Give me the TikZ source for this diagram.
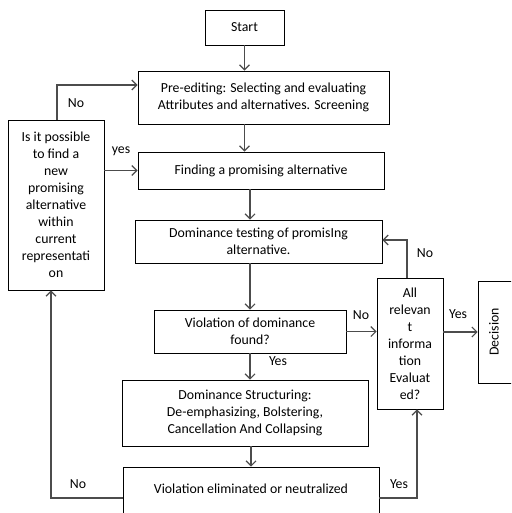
\documentclass[tikz,border=0pt]{standalone}
\usepackage{fontspec}
\setmainfont{Carlito}
\usetikzlibrary{arrows.meta}

\begin{document}
\begin{tikzpicture}[x=1pt, y=-1pt,
	box/.style={draw=black, line width=0.9pt, align=center, inner sep=2pt, font=\fontsize{13.8}{17}\selectfont},
	lbl/.style={font=\fontsize{13.8}{17}\selectfont},
	arr/.style={draw=black!70, line width=1.1pt, -{Straight Barb[length=5pt,width=10pt]}}]
			\useasboundingbox (0,0) rectangle (511,513);
			\clip (0,0) rectangle (511,513);
			\fill[white] (0,0) rectangle (511,513);
			\node[box, minimum width=79pt, minimum height=35pt] (start) at (244.5,27.5) {Start};
			\node[box, minimum width=251pt, minimum height=53pt] (pre) at (263.5,97.5) {Pre-editing: Selecting and evaluating\\Attributes and alternatives. Screening};
			\node[box, minimum width=246pt, minimum height=37pt] (find) at (261,170.5) {Finding a promising alternative};
			\node[box, minimum width=247pt, minimum height=43pt] (test) at (258.5,241.5) {Dominance testing of promisIng\\alternative.};
			\node[box, minimum width=192pt, minimum height=43pt] (viol) at (250,331.5) {Violation of dominance\\found?};
			\node[box, minimum width=246pt, minimum height=66pt] (struct) at (245,413) {Dominance Structuring:\\De-emphasizing, Bolstering,\\Cancellation And Collapsing};
			\node[box, minimum width=256pt, minimum height=50pt, text depth=6pt] (elim) at (251,492) {Violation eliminated or neutralized};
			\node[box, minimum width=96pt, minimum height=170pt] (possible) at (56,205) {Is it possible\\to find a\\new\\promising\\alternative\\within\\current\\representati\\on};
			\node[box, minimum width=66pt, minimum height=131pt] (allinfo) at (410,343.5) {All\\relevan\\t\\informa\\tion\\Evaluat\\ed?};
			\node[box, minimum width=40pt, minimum height=102pt] (decision) at (498,332) {};
			\node[lbl, rotate=90] (decisiontext) at (494,332) {Decision};
			% main column
			\draw[arr] (start.south) -- (start.south |- pre.north);
			\draw[arr] (pre.south -| start.south) -- (start.south |- find.north);
			\draw[arr] (find.south -| viol.north) -- (viol.north |- test.north);
			\draw[arr] (test.south -| viol.north) -- (viol.north);
			\draw[arr] (viol.south) -- (viol.south |- struct.north);
			\draw[arr] (struct.south -| elim.north) -- (elim.north);
			% side loops
			\coordinate (noup) at (57,85);
			\draw[arr] (possible.north -| noup) -- (noup) -- (noup -| pre.west);
			\draw[arr] (possible.east |- find.west) -- (find.west);
			\coordinate (nodown) at (51,498);
			\draw[arr] (elim.west |- nodown) -- (nodown) -- (nodown |- possible.south);
			\draw[arr] (viol.east) -- (viol.east -| allinfo.west);
			\coordinate (noback) at (407,240);
			\draw[arr] (allinfo.north -| noback) -- (noback) -- (noback -| test.east);
			\draw[arr] (allinfo.east |- decision.west) -- (decision.west);
			\coordinate (yesup) at (417,498);
			\draw[arr] (elim.east |- yesup) -- (yesup) -- (yesup |- allinfo.south);
			% labels
			\node[lbl] (lno1) at (76,103) {No};
			\node[lbl] (lyes1) at (121,151) {yes};
			\node[lbl] (lno2) at (361,315) {No};
			\node[lbl] (lno3) at (425,253) {No};
			\node[lbl] (lyes2) at (458,314) {Yes};
			\node[lbl] (lyes3) at (278,361) {Yes};
			\node[lbl] (lno4) at (78,484) {No};
			\node[lbl] (lyes4) at (399,484) {Yes};
\end{tikzpicture}
\end{document}
